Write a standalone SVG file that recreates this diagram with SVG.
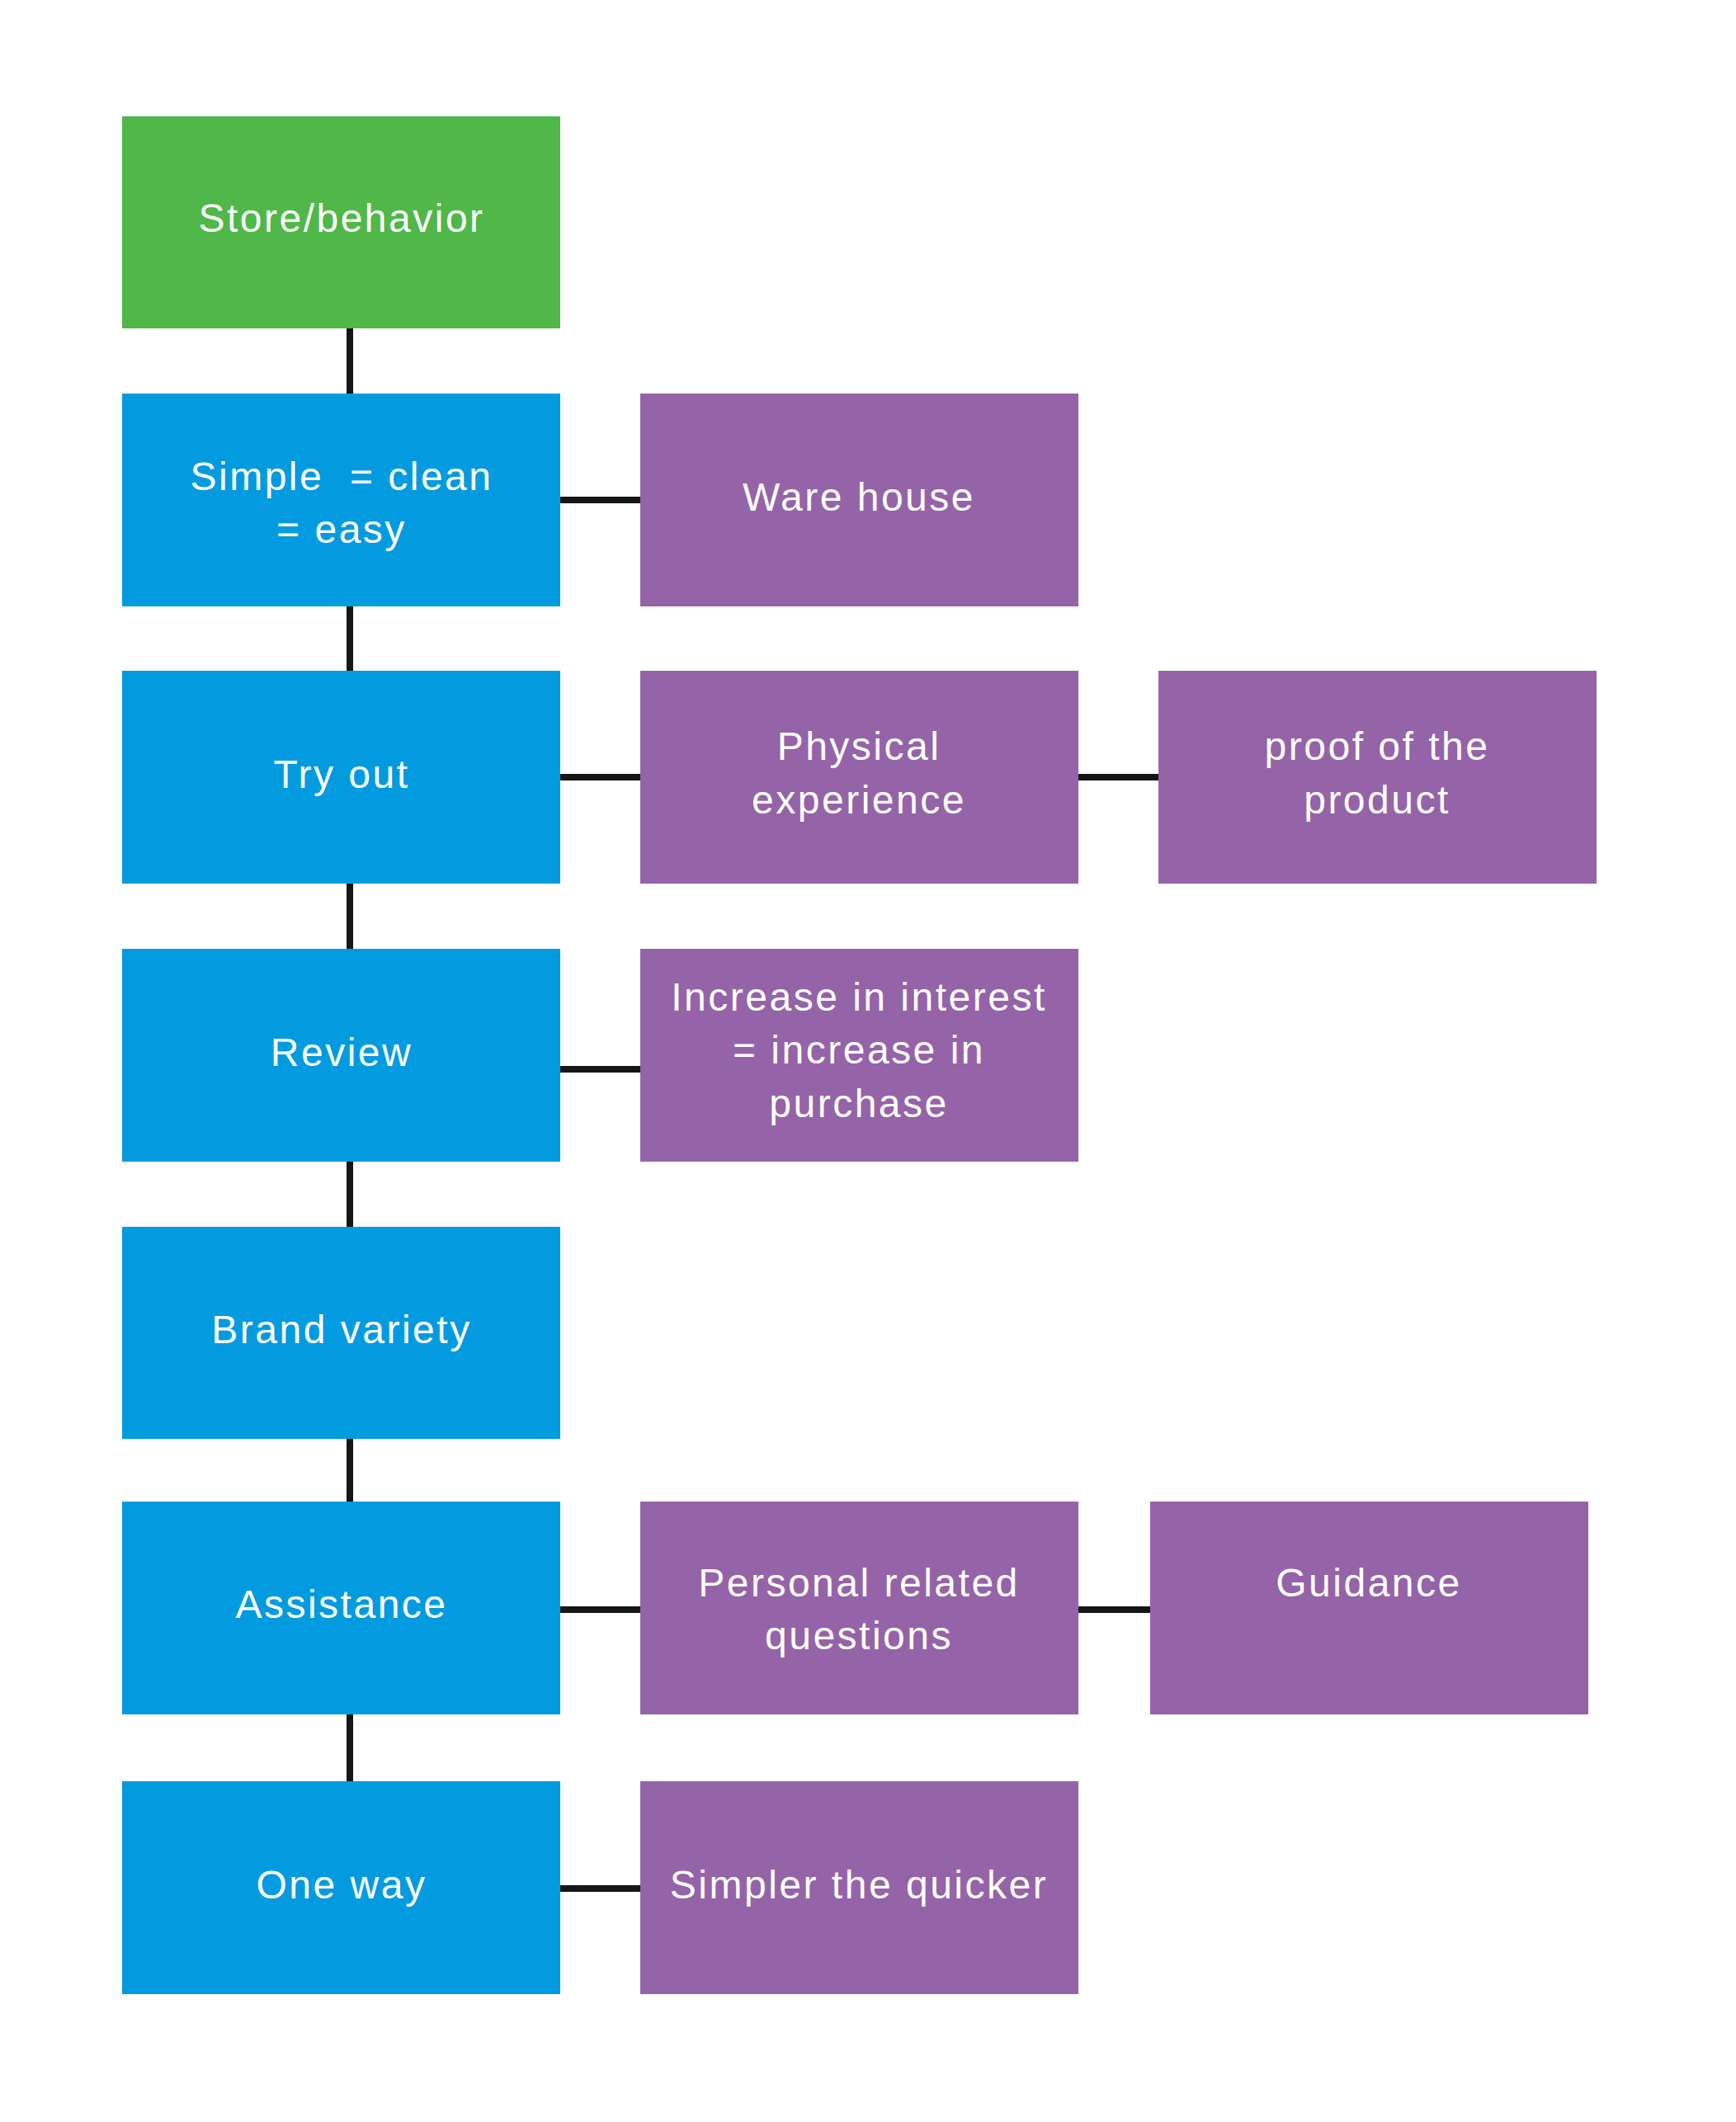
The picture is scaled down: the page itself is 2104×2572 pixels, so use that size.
<svg xmlns="http://www.w3.org/2000/svg" width="2104" height="2572" viewBox="0 0 2104 2572">
<style>
.g{fill:#4FB848}
.b{fill:#039BDF}
.p{fill:#9563A8}
.t{fill:#ffffff;font-family:"Liberation Sans",Arial,sans-serif;font-size:48px;letter-spacing:2.5px;text-anchor:middle;white-space:pre}
.c{stroke:#161616;stroke-width:8;fill:none}
</style>
<rect width="2104" height="2572" fill="#ffffff"/>
<g id="connectors">
<line class="c" x1="424" y1="396" x2="424" y2="479"/>
<line class="c" x1="424" y1="733" x2="424" y2="815"/>
<line class="c" x1="424" y1="1069" x2="424" y2="1152"/>
<line class="c" x1="424" y1="1406" x2="424" y2="1489"/>
<line class="c" x1="424" y1="1742" x2="424" y2="1822"/>
<line class="c" x1="424" y1="2076" x2="424" y2="2161"/>
<line class="c" x1="679" y1="606" x2="776" y2="606"/>
<line class="c" x1="679" y1="942" x2="776" y2="942"/>
<line class="c" x1="1307" y1="942" x2="1404" y2="942"/>
<line class="c" x1="679" y1="1296" x2="776" y2="1296"/>
<line class="c" x1="679" y1="1951" x2="776" y2="1951"/>
<line class="c" x1="1307" y1="1951" x2="1394" y2="1951"/>
<line class="c" x1="679" y1="2289" x2="776" y2="2289"/>
</g>
<g id="store">
<rect class="g" x="148" y="141" width="531" height="257"/>
<text class="t" x="414" y="281">Store/behavior</text>
</g>
<g id="simple">
<rect class="b" x="148" y="477" width="531" height="258"/>
<text class="t" x="414" y="594" xml:space="preserve">Simple  = clean</text>
<text class="t" x="414" y="658">= easy</text>
</g>
<g id="warehouse">
<rect class="p" x="776" y="477" width="531" height="258"/>
<text class="t" x="1041" y="619">Ware house</text>
</g>
<g id="tryout">
<rect class="b" x="148" y="813" width="531" height="258"/>
<text class="t" x="414" y="955">Try out</text>
</g>
<g id="physical">
<rect class="p" x="776" y="813" width="531" height="258"/>
<text class="t" x="1041" y="921">Physical</text>
<text class="t" x="1041" y="986">experience</text>
</g>
<g id="proof">
<rect class="p" x="1404" y="813" width="531" height="258"/>
<text class="t" x="1669" y="921">proof of the</text>
<text class="t" x="1669" y="986">product</text>
</g>
<g id="review">
<rect class="b" x="148" y="1150" width="531" height="258"/>
<text class="t" x="414" y="1292">Review</text>
</g>
<g id="interest">
<rect class="p" x="776" y="1150" width="531" height="258"/>
<text class="t" x="1041" y="1225">Increase in interest</text>
<text class="t" x="1041" y="1289">= increase in</text>
<text class="t" x="1041" y="1354">purchase</text>
</g>
<g id="brand">
<rect class="b" x="148" y="1487" width="531" height="257"/>
<text class="t" x="414" y="1628">Brand variety</text>
</g>
<g id="assistance">
<rect class="b" x="148" y="1820" width="531" height="258"/>
<text class="t" x="414" y="1961">Assistance</text>
</g>
<g id="personal">
<rect class="p" x="776" y="1820" width="531" height="258"/>
<text class="t" x="1041" y="1935">Personal related</text>
<text class="t" x="1041" y="1999">questions</text>
</g>
<g id="guidance">
<rect class="p" x="1394" y="1820" width="531" height="258"/>
<text class="t" x="1659" y="1935">Guidance</text>
</g>
<g id="oneway">
<rect class="b" x="148" y="2159" width="531" height="258"/>
<text class="t" x="414" y="2301">One way</text>
</g>
<g id="simpler">
<rect class="p" x="776" y="2159" width="531" height="258"/>
<text class="t" x="1041" y="2301">Simpler the quicker</text>
</g>
</svg>
